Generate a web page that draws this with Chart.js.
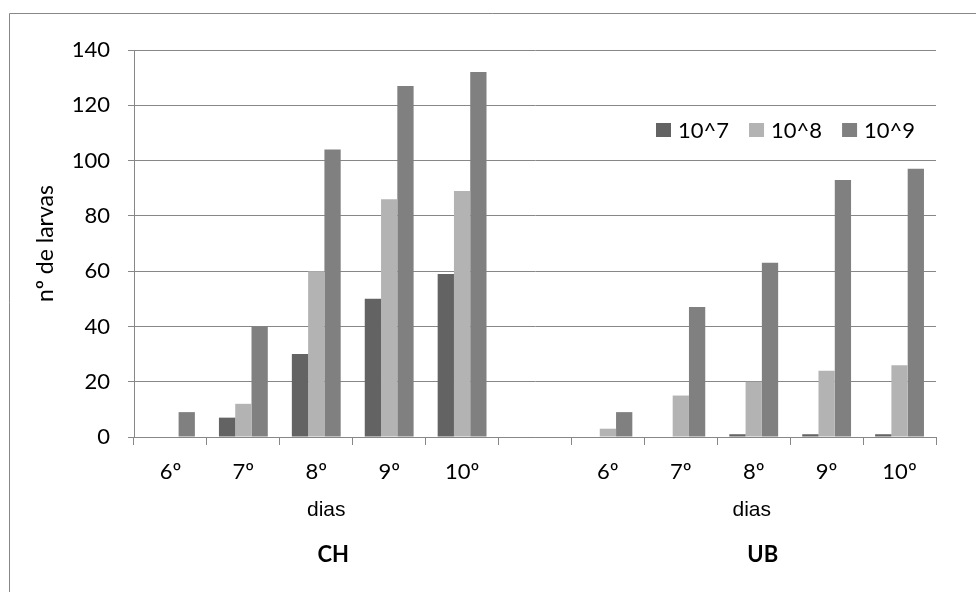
<!DOCTYPE html>
<html lang="pt">
<head>
    <meta charset="UTF-8">
    <title>nº de larvas</title>
    <style>
        body {
            margin: 0;
            padding: 0;
            background-color: #ffffff;
        }
        canvas {
            display: block;
        }
    </style>
    <script src="https://cdn.jsdelivr.net/npm/chart.js"></script>
</head>
<body>
    <canvas id="larvasChart" width="976" height="592"></canvas>

    <script>
        // data
        const categories = ['6º', '7º', '8º', '9º', '10º', '', '6º', '7º', '8º', '9º', '10º'];
        const series7 = [0, 7, 30, 50, 59, null, 0, 0, 1, 1, 1];
        const series8 = [0, 12, 60, 86, 89, null, 3, 15, 20, 24, 26];
        const series9 = [9, 40, 104, 127, 132, null, 9, 47, 63, 93, 97];
        const seriesLabels = ['10^7', '10^8', '10^9'];
        const seriesColors = ['#636363', '#b3b3b3', '#808080'];
        const groupLabels = ['CH', 'UB'];
        const xTitle = 'dias';
        const yTitle = 'nº de larvas';

        const gridColor = '#878787';
        const tickFont = { family: 'Lato', size: 22 };

        // frame, axis sub-titles, group names and legend
        const extrasPlugin = {
            id: 'extras',
            beforeDraw(chart) {
                const ctx = chart.ctx;
                ctx.save();
                ctx.strokeStyle = gridColor;
                ctx.lineWidth = 1;
                ctx.beginPath();
                ctx.moveTo(9.5, 592);
                ctx.lineTo(9.5, 13.5);
                ctx.lineTo(976, 13.5);
                ctx.stroke();
                ctx.restore();
            },
            afterDraw(chart) {
                const ctx = chart.ctx;
                const x = chart.scales.x;
                ctx.save();
                ctx.fillStyle = '#000';
                ctx.textAlign = 'center';
                ctx.textBaseline = 'middle';

                const groups = [
                    { tick: 2, titleDx: 10, nameDx: 17 },
                    { tick: 8, titleDx: -2, nameDx: 9 }
                ];
                groups.forEach((g, i) => {
                    const cx = x.getPixelForValue(g.tick);
                    ctx.font = '21px "Liberation Sans"';
                    ctx.fillText(xTitle, cx + g.titleDx, 510);
                    ctx.font = 'bold 22px Lato';
                    ctx.fillText(groupLabels[i], cx + g.nameDx, 555);
                });

                // legend inside the plot, top right
                ctx.font = '22px Lato';
                ctx.textAlign = 'left';
                let lx = 656;
                seriesLabels.forEach((label, i) => {
                    ctx.fillStyle = seriesColors[i];
                    ctx.fillRect(lx, 123, 15, 14);
                    ctx.fillStyle = '#000';
                    ctx.fillText(label, lx + 22, 131);
                    lx += 22 + ctx.measureText(label).width + 20;
                });
                ctx.restore();
            }
        };

        const ctx = document.getElementById('larvasChart').getContext('2d');

        new Chart(ctx, {
            type: 'bar',
            data: {
                labels: categories,
                datasets: [
                    { label: seriesLabels[0], data: series7, backgroundColor: seriesColors[0] },
                    { label: seriesLabels[1], data: series8, backgroundColor: seriesColors[1] },
                    { label: seriesLabels[2], data: series9, backgroundColor: seriesColors[2] }
                ]
            },
            options: {
                responsive: false,
                animation: false,
                layout: {
                    padding: { left: 0, top: 50, right: 40, bottom: 0 }
                },
                datasets: {
                    bar: {
                        categoryPercentage: 0.67,
                        barPercentage: 1,
                        borderWidth: 0
                    }
                },
                scales: {
                    x: {
                        afterFit(scale) { scale.height = 155; },
                        grid: {
                            display: true,
                            drawOnChartArea: false,
                            drawTicks: true,
                            tickLength: 8,
                            color: gridColor
                        },
                        border: { display: true, color: gridColor },
                        ticks: {
                            color: '#000',
                            font: tickFont,
                            padding: 14,
                            maxRotation: 0,
                            autoSkip: false
                        }
                    },
                    y: {
                        min: 0,
                        max: 140,
                        afterFit(scale) { scale.width = 134; },
                        grid: {
                            color: gridColor,
                            tickLength: 6
                        },
                        border: { display: true, color: gridColor },
                        ticks: {
                            stepSize: 20,
                            color: '#000',
                            font: tickFont,
                            padding: 18
                        },
                        title: {
                            display: true,
                            text: yTitle,
                            color: '#000',
                            font: { family: 'Lato', size: 23 },
                            padding: { top: 32, bottom: 0 }
                        }
                    }
                },
                plugins: {
                    legend: { display: false },
                    tooltip: { enabled: false }
                }
            },
            plugins: [extrasPlugin]
        });
    </script>
</body>
</html>
